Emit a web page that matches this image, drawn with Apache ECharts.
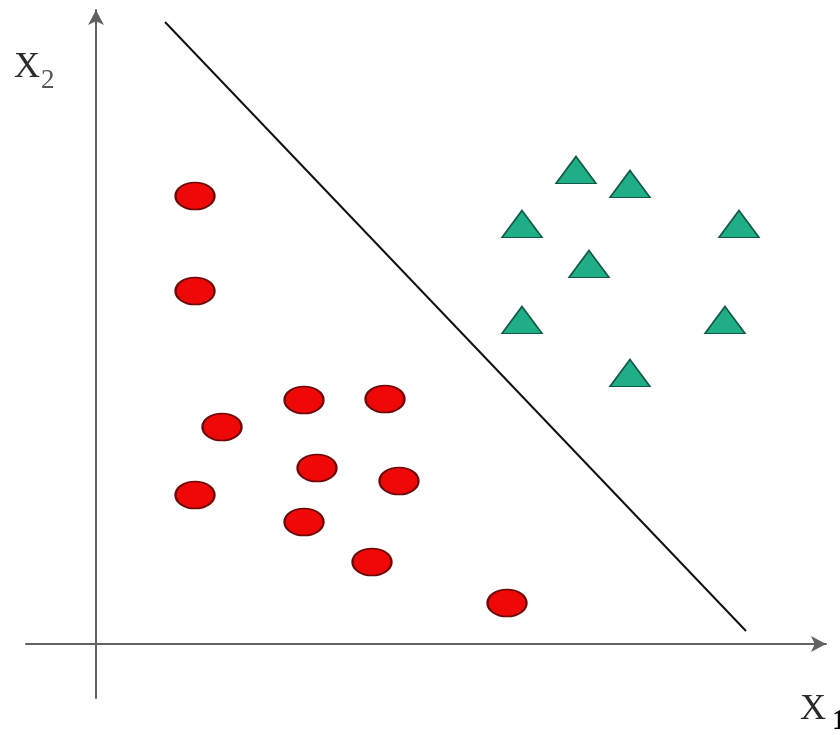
<!DOCTYPE html>
<html>
<head>
<meta charset="utf-8">
<script src="https://cdn.jsdelivr.net/npm/echarts@6/dist/echarts.min.js"></script>
<style>html,body{margin:0;padding:0;background:#fff}#c{width:840px;height:735px}</style>
</head>
<body>
<div id="c"></div>
<script>
// Class 1 (red ellipses): [x1, x2]
const redPoints = [
  [9.9, 44.8], [9.9, 35.3], [12.6, 21.7], [20.8, 24.4], [28.9, 24.5],
  [22.1, 17.6], [30.3, 16.3], [9.9, 14.9], [20.8, 12.2], [27.6, 8.2], [41.1, 4.1]
];
// Class 2 (green triangles): [x1, x2]
const greenPoints = [
  [48.0, 47.4], [53.4, 46.0], [42.6, 42.0], [64.3, 42.0],
  [49.3, 38.0], [42.6, 32.4], [62.9, 32.4], [53.4, 27.1]
];
// Separating line endpoints
const boundary = [[6.9, 62.2], [65.0, 1.3]];
const xLabel = 'X';
const xSub = '1';
const yLabel = 'X';
const ySub = '2';

const serif = '"Liberation Serif", "DejaVu Serif", serif';
const chart = echarts.init(document.getElementById('c'), null, {renderer: 'canvas'});
const axisCommon = {
  axisLine: {onZero: true, symbol: ['none', 'arrow'], symbolSize: [12, 15],
    lineStyle: {color: '#626262', width: 2}},
  axisTick: {show: false}, axisLabel: {show: false}, splitLine: {show: false}
};
const ellipse = 'path://M-1,0A1,1,0,1,1,1,0A1,1,0,1,1,-1,0Z';
chart.setOption({
  backgroundColor: '#ffffff',
  animation: false,
  grid: {left: 26, right: 14, top: 10, bottom: 37},
  xAxis: Object.assign({type: 'value', min: -7, max: 73}, axisCommon),
  yAxis: Object.assign({type: 'value', min: -5.4, max: 63.4}, axisCommon),
  series: [
    {type: 'line', data: boundary, symbol: 'none',
      lineStyle: {color: '#111', width: 2}},
    {type: 'scatter', data: redPoints, symbol: ellipse, symbolSize: [39, 27],
      itemStyle: {color: '#ee0808', borderColor: '#6e0808', borderWidth: 2, opacity: 1}},
    {type: 'scatter', data: greenPoints, symbol: 'triangle', symbolSize: [40, 27],
      itemStyle: {color: '#1fae85', borderColor: '#0f5843', borderWidth: 1.5, opacity: 1}}
  ],
  graphic: [
    {type: 'text', left: 14, top: 50, style: {
      text: '{a|' + yLabel + '}{b|' + ySub + '}',
      rich: {a: {fontFamily: serif, fontSize: 36, fill: '#2a2a2a'},
             b: {fontFamily: serif, fontSize: 27, fill: '#555', padding: [26, 0, 0, 1]}}}},
    {type: 'text', left: 800, top: 692, style: {
      text: '{a|' + xLabel + '}{b|' + xSub + '}',
      rich: {a: {fontFamily: serif, fontSize: 36, fill: '#2a2a2a'},
             b: {fontFamily: serif, fontSize: 30, fill: '#000', fontWeight: 'bold', padding: [22, 0, 0, 6]}}}}
  ]
});
</script>
</body>
</html>
